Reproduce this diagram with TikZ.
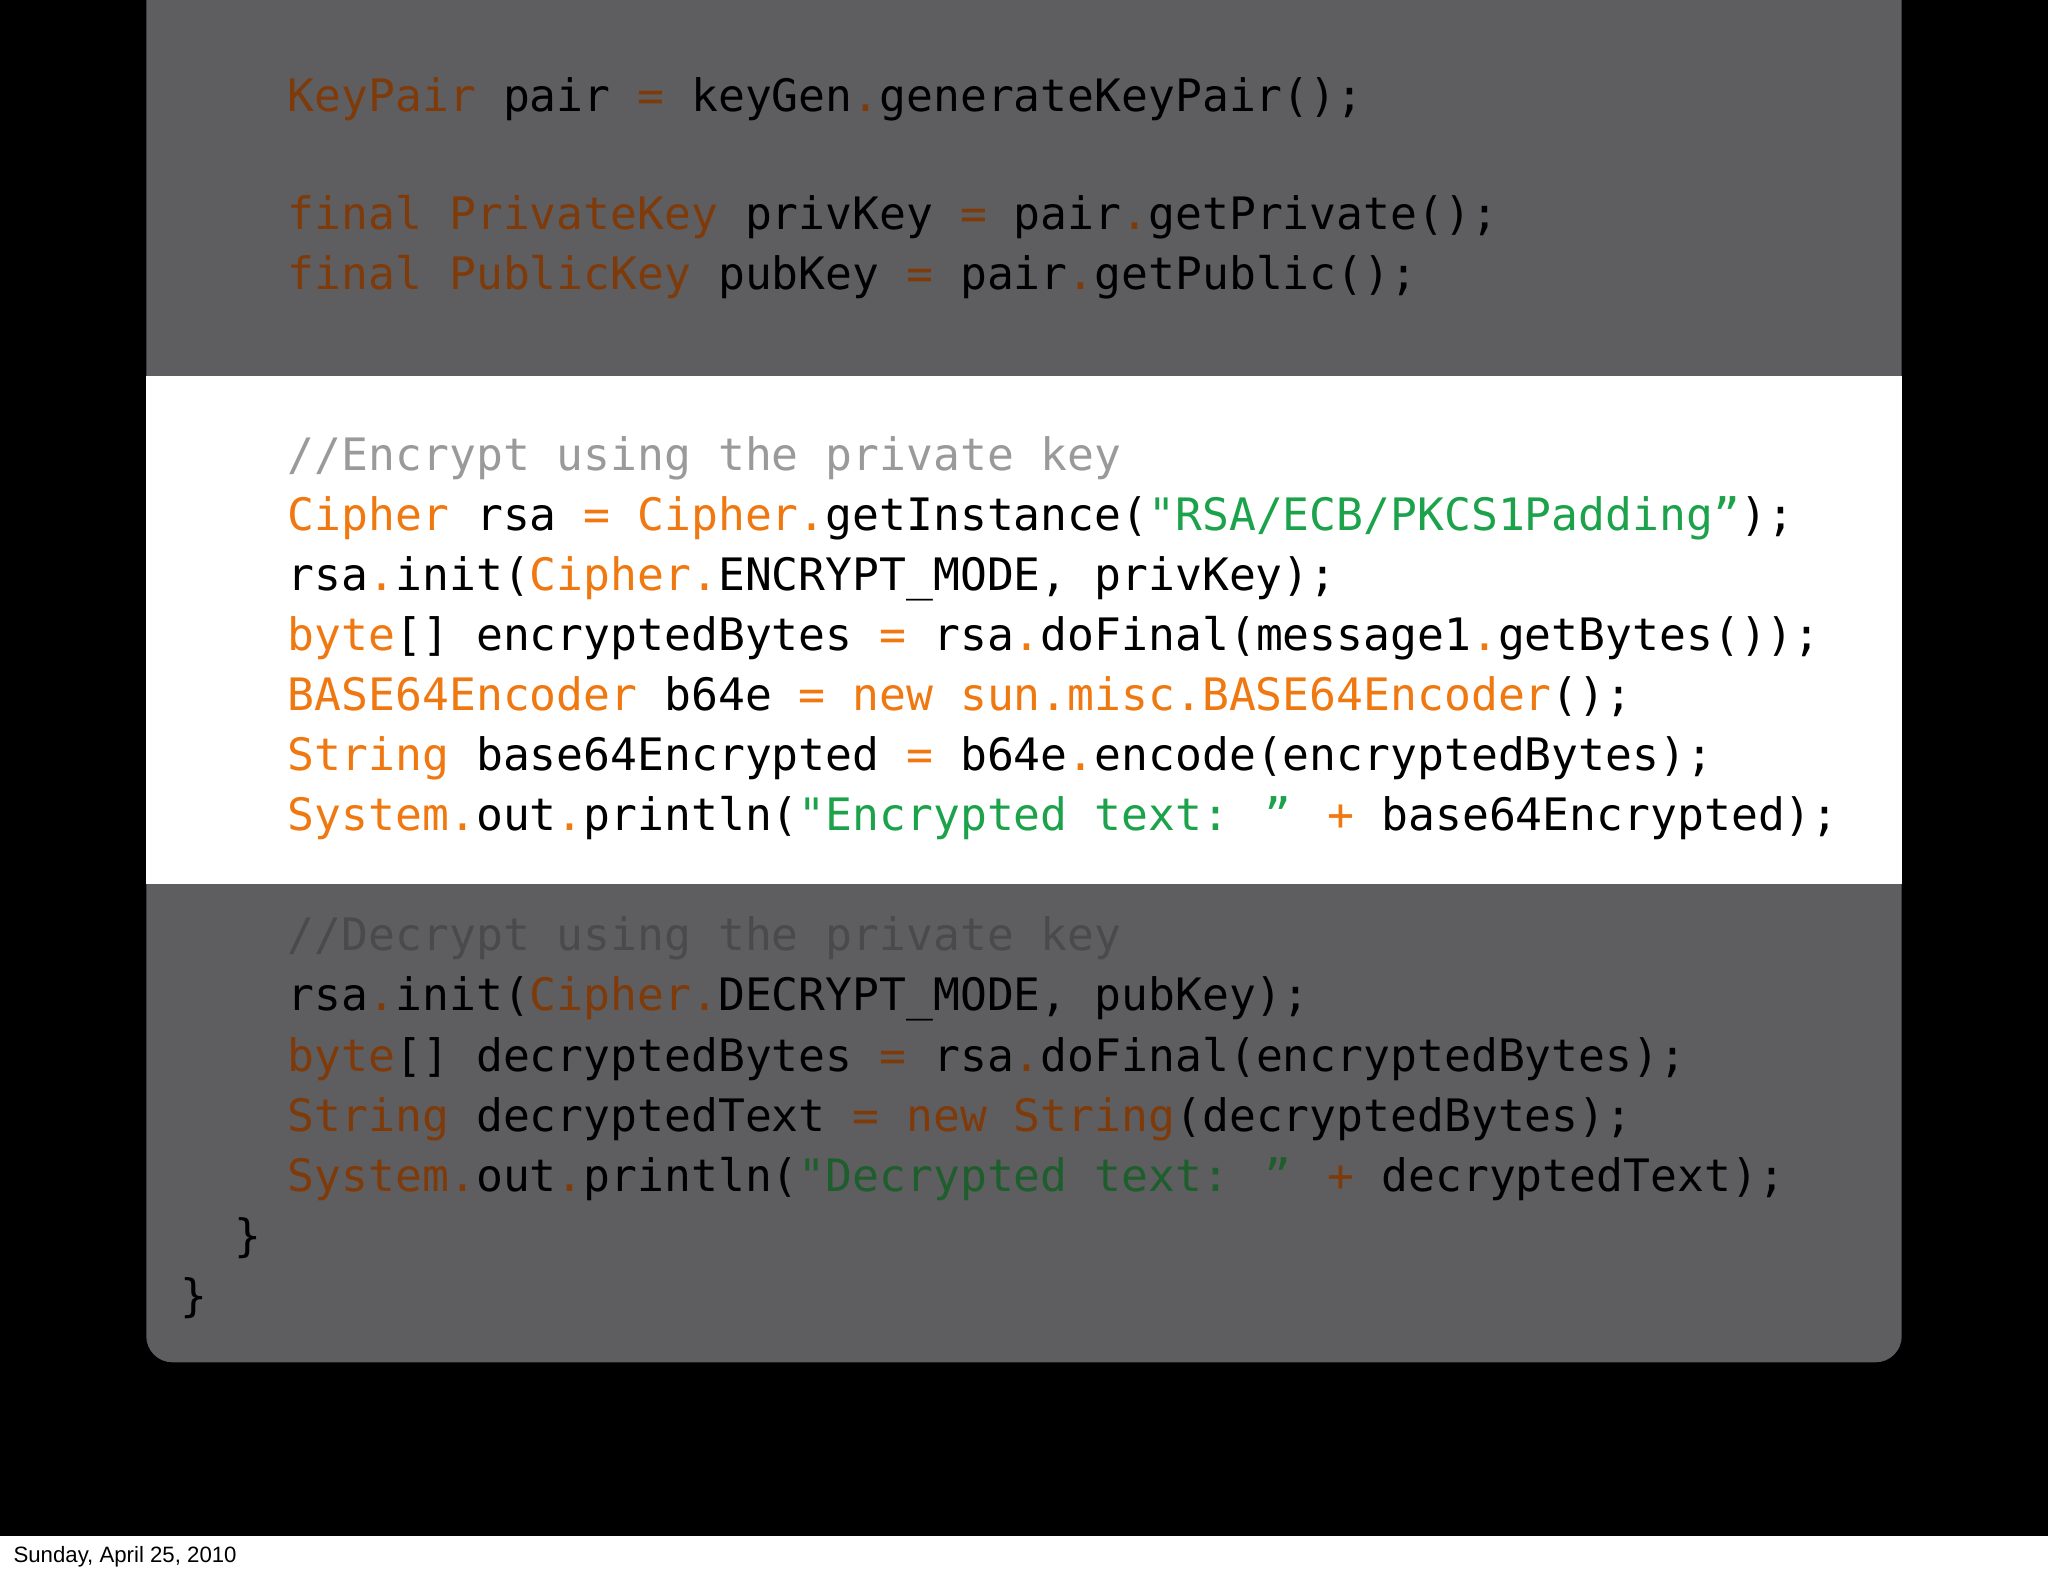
\documentclass[tikz,border=0pt]{standalone}
\usepackage{fontspec}
\setmainfont{Liberation Sans}
\newfontfamily\codefont{DejaVu Sans Mono}
\definecolor{panel}{HTML}{5E5D60}
\definecolor{orW}{HTML}{F07810}
\definecolor{grW}{HTML}{1BA24A}
\definecolor{cmW}{HTML}{9A9A9A}
\definecolor{orD}{HTML}{7F3A0A}
\definecolor{grD}{HTML}{1E5E2C}
\definecolor{cmD}{HTML}{4A4A4C}
\newcommand\Ot[1]{\textcolor{ot}{#1}}
\newcommand\Gt[1]{\textcolor{gt}{#1}}
\newcommand\Ct[1]{\textcolor{ct}{#1}}
\tikzset{
  codeD/.style={anchor=base west,inner sep=0,font=\fontsize{17.1}{20}\codefont\colorlet{ot}{orD}\colorlet{gt}{grD}\colorlet{ct}{cmD}},
  codeW/.style={anchor=base west,inner sep=0,font=\fontsize{17.1}{20}\codefont\colorlet{ot}{orW}\colorlet{gt}{grW}\colorlet{ct}{cmW}}
}
\begin{document}
\begin{tikzpicture}[x=0.5pt,y=-0.5pt]
\useasboundingbox (0,0) rectangle (1568,1206);
\fill[white] (0,0) rectangle (1568,1206);
\fill[black] (0,0) rectangle (1568,1176);
\fill[panel,rounded corners=10pt] (112,-30) rectangle (1456,1043);
\fill[white] (112,288) rectangle (1456,677);
\node[codeD] (l1) at (220,85) {\Ot{KeyPair} pair \Ot{=} keyGen\Ot{.}generateKeyPair();};
\node[codeD] (l2) at (220,176) {\Ot{final PrivateKey} privKey \Ot{=} pair\Ot{.}getPrivate();};
\node[codeD] (l3) at (220,222) {\Ot{final PublicKey} pubKey \Ot{=} pair\Ot{.}getPublic();};
\node[codeW] (w1) at (220,360) {\Ct{//Encrypt using the private key}};
\node[codeW] (w2) at (220,406) {\Ot{Cipher} rsa \Ot{=} \Ot{Cipher.}getInstance(\Gt{"RSA/ECB/PKCS1Padding”});};
\node[codeW] (w3) at (220,452) {rsa\Ot{.}init(\Ot{Cipher.}ENCRYPT\_MODE, privKey);};
\node[codeW] (w4) at (220,498) {\Ot{byte}[] encryptedBytes \Ot{=} rsa\Ot{.}doFinal(message1\Ot{.}getBytes());};
\node[codeW] (w5) at (220,544) {\Ot{BASE64Encoder} b64e \Ot{= new sun.misc.BASE64Encoder}();};
\node[codeW] (w6) at (220,590) {\Ot{String} base64Encrypted \Ot{=} b64e\Ot{.}encode(encryptedBytes);};
\node[codeW] (w7) at (220,636) {\Ot{System.}out\Ot{.}println(\Gt{"Encrypted text: ”} \Ot{+} base64Encrypted);};
\node[codeD] (d1) at (220,728) {\Ct{//Decrypt using the private key}};
\node[codeD] (d2) at (220,774) {rsa\Ot{.}init(\Ot{Cipher.}DECRYPT\_MODE, pubKey);};
\node[codeD] (d3) at (220,820) {\Ot{byte}[] decryptedBytes \Ot{=} rsa\Ot{.}doFinal(encryptedBytes);};
\node[codeD] (d4) at (220,866) {\Ot{String} decryptedText \Ot{= new String}(decryptedBytes);};
\node[codeD] (d5) at (220,912) {\Ot{System.}out\Ot{.}println(\Gt{"Decrypted text: ”} \Ot{+} decryptedText);};
\node[codeD] (b1) at (179,958) {\}};
\node[codeD] (b2) at (138,1004) {\}};
\node[anchor=base west,inner sep=0,font=\fontsize{8.5}{10}\selectfont] (foot) at (10,1196) {Sunday, April 25, 2010};
\end{tikzpicture}
\end{document}
